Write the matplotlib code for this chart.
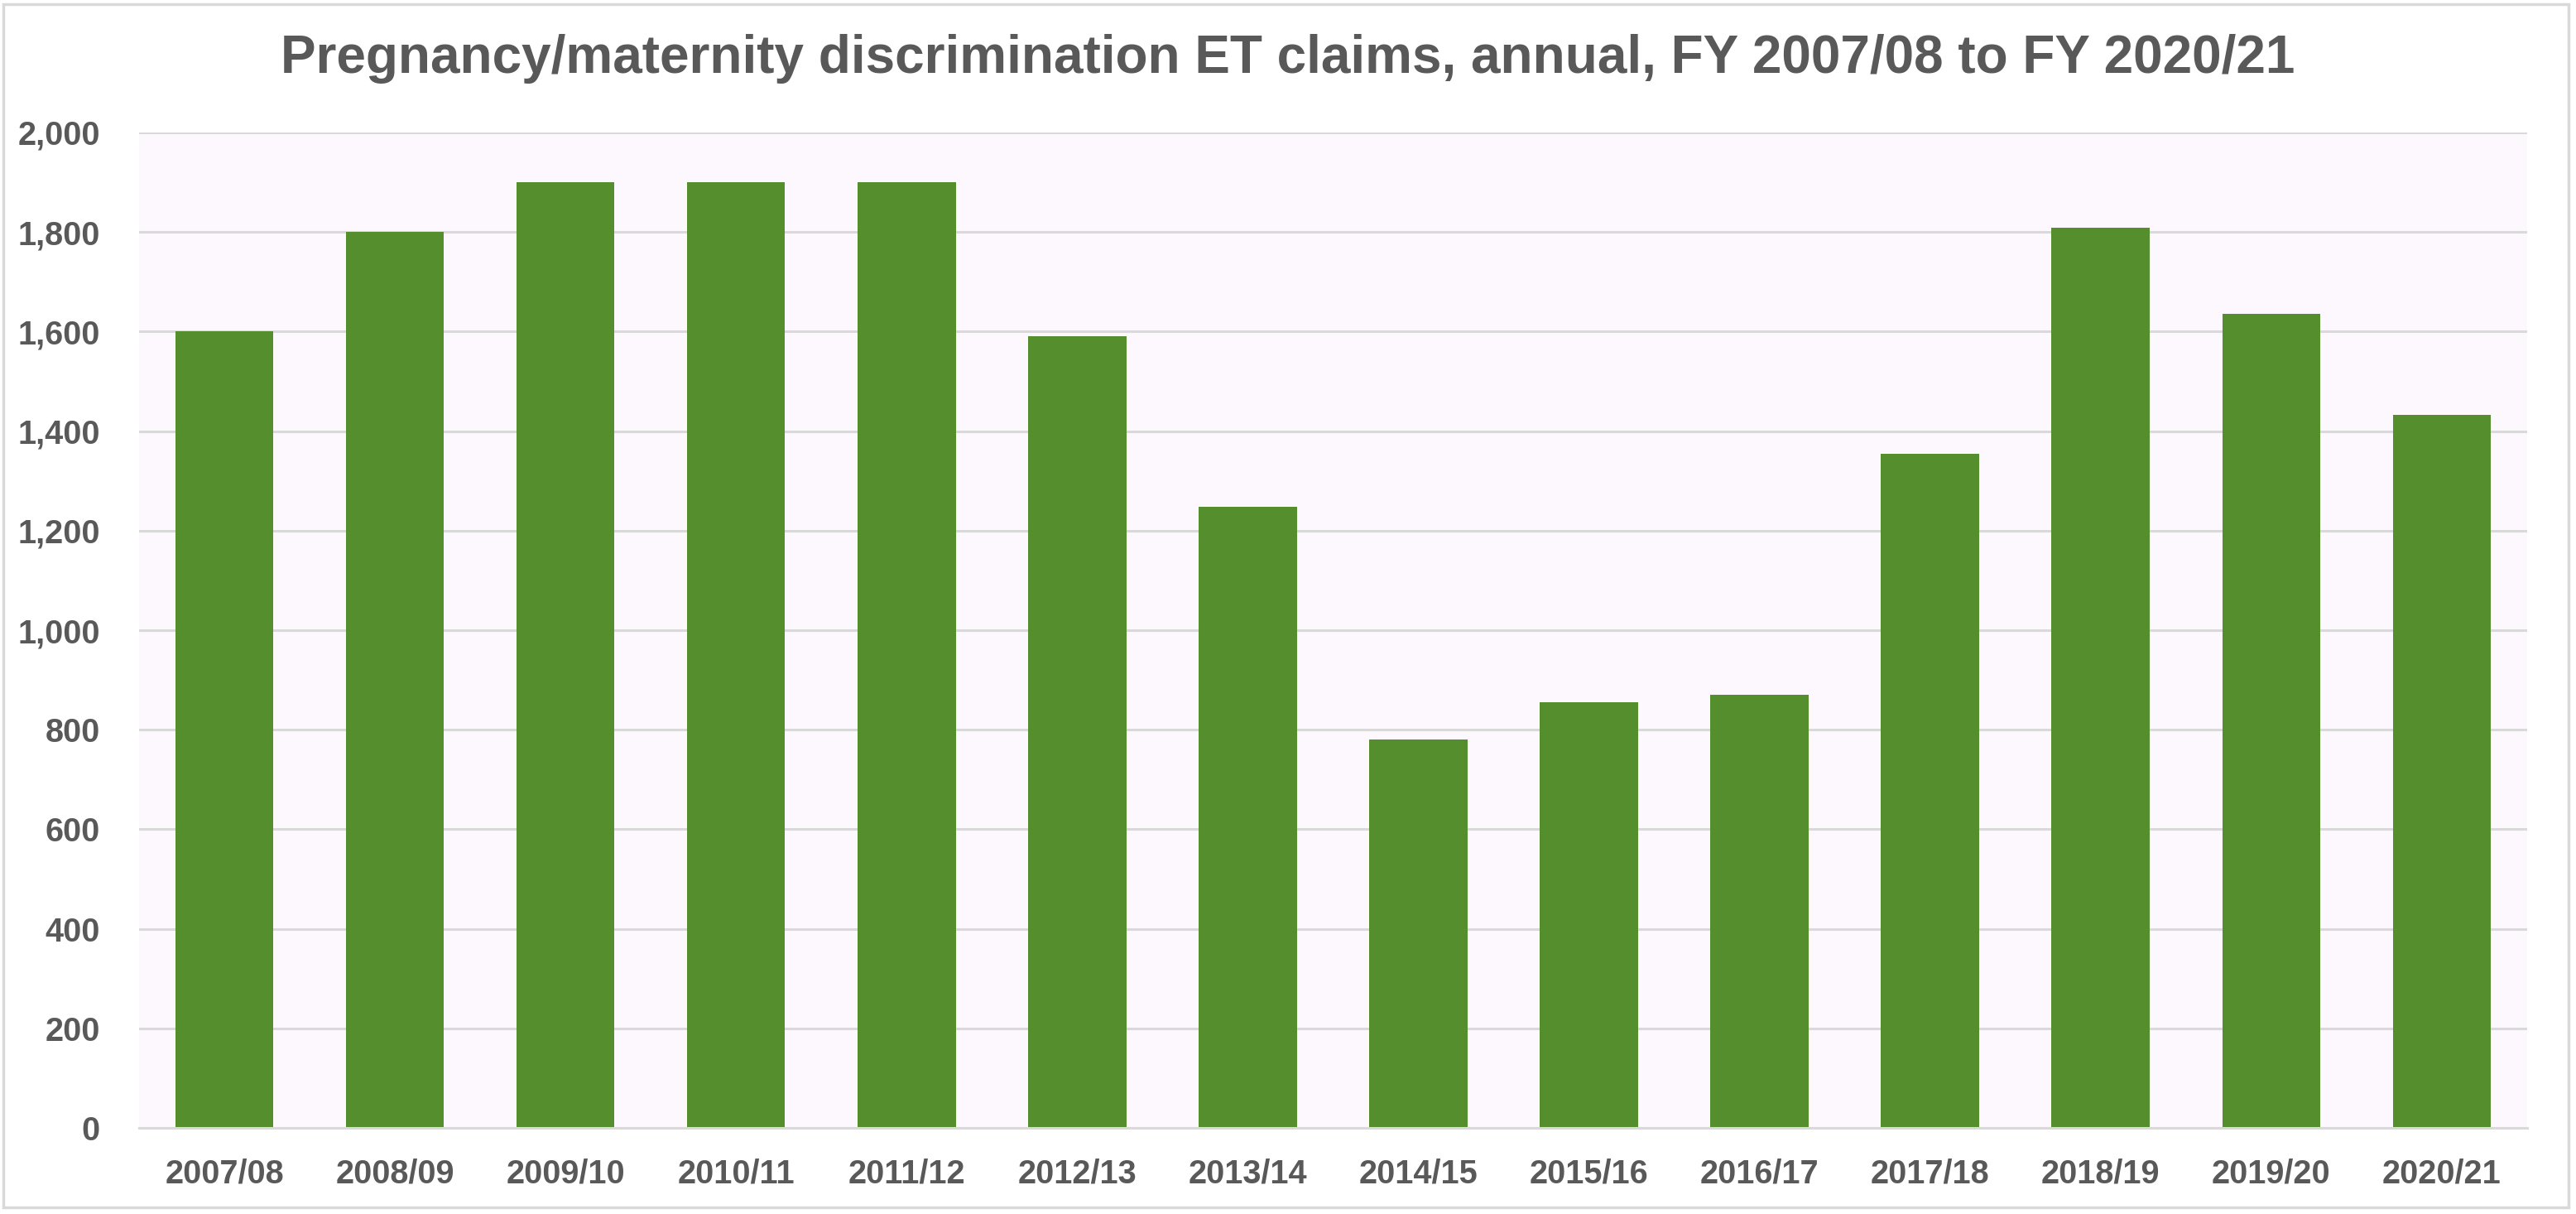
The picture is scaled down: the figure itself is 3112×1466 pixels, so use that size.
import matplotlib
matplotlib.use('Agg')
import matplotlib.pyplot as plt
from matplotlib.patches import Rectangle
from matplotlib.ticker import FuncFormatter, MultipleLocator

# data
years = ['2007/08', '2008/09', '2009/10', '2010/11', '2011/12', '2012/13', '2013/14',
         '2014/15', '2015/16', '2016/17', '2017/18', '2018/19', '2019/20', '2020/21']
claims = [1600, 1800, 1900, 1900, 1900, 1590, 1248, 780, 855, 870, 1355, 1808, 1635, 1433]

title = 'Pregnancy/maternity discrimination ET claims, annual, FY 2007/08 to FY 2020/21'

TEXT = '#595959'
GREEN = '#548e2d'
GRID = '#d9d9d9'
FACE = '#fcf8fd'

plt.rcParams['font.family'] = ['Liberation Sans Narrow', 'Liberation Sans', 'DejaVu Sans']
plt.rcParams['font.weight'] = 'bold'

fig = plt.figure(figsize=(31.12, 14.66), dpi=100)
ax = fig.add_axes([0.054, 0.0709, 0.927, 0.82])
ax.set_facecolor(FACE)

x = range(len(years))
ax.bar(x, claims, width=0.575, color=GREEN, zorder=3)

ax.set_xlim(-0.5, len(years) - 0.5)
ax.set_ylim(0, 2000)
ax.yaxis.set_major_locator(MultipleLocator(200))
ax.yaxis.set_major_formatter(FuncFormatter(lambda v, p: f'{int(v):,}'))
ax.set_xticks(list(x))
ax.set_xticklabels(years)

ax.grid(axis='y', color=GRID, linewidth=2.2, zorder=0)
for s in ['top', 'right', 'left']:
    ax.spines[s].set_visible(False)
ax.spines['bottom'].set_color(GRID)
ax.spines['bottom'].set_linewidth(2.2)
ax.spines['bottom'].set_zorder(4)

ax.tick_params(axis='both', length=0, labelcolor=TEXT, labelsize=28.5)
ax.tick_params(axis='y', pad=34)
ax.tick_params(axis='x', pad=26)
for lab in ax.get_xticklabels() + ax.get_yticklabels():
    lab.set_fontweight('bold')

fig.text(0.5, 1 - 88 / 1466, title, ha='center', va='baseline',
         fontsize=46, fontweight='bold', color=TEXT)

# outer chart frame
fig.patches.append(Rectangle((4 / 3112, 8 / 1466), 3099 / 3112, 1453 / 1466,
                             transform=fig.transFigure, fill=False,
                             edgecolor=GRID, linewidth=2.5))

fig.savefig('out.png', dpi=100, facecolor='white')
